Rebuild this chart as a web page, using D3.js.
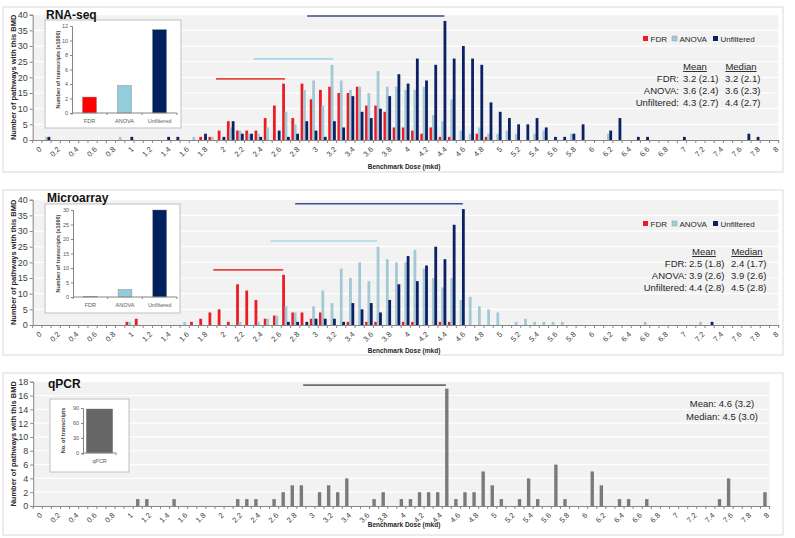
<!DOCTYPE html>
<html>
<head>
<meta charset="utf-8">
<script src="https://cdn.jsdelivr.net/npm/d3@7"></script>
<style>
body { margin: 0; background: #fff; font-family: "Liberation Sans", Arial, sans-serif; }
</style>
</head>
<body>
<svg id="chart" width="795" height="538"></svg>
<script>
// categories: benchmark dose bins, 0.0 .. 8.0 by 0.1
const doses = d3.range(81).map(i => i / 10);
const seriesNames = ['FDR', 'ANOVA', 'Unfiltered'];

// RNA-seq: number of pathways per BMD bin
const rnaFdr = [
  0,0,0,0,0,0,0,0,0,0,
  0,0,0,0,0,0,0,0,1,1,
  3,6,3,3,3,7,11,18,7,18,
  13,16,17,15,15,17,11,11,9,4,
  4,3,2,4,1,1,0,0,2,1,
  0,0,0,0,0,0,0,0,0,0,
  0,0,0,0,0,0,0,0,0,0,
  0,0,0,0,0,0,0,0,0,0,
  0];
const rnaAnova = [
  0,1,0,0,0,0,0,0,0,1,
  0,0,0,0,0,0,0,1,0,1,
  0,4,3,2,2,4,0,9,5,16,
  19,11,24,19,16,17,15,22,17,17,
  16,16,17,8,6,13,3,2,4,2,
  2,3,2,0,2,3,0,0,2,0,
  0,0,2,0,0,0,0,0,0,0,
  0,0,0,0,0,0,0,0,0,0,
  0];
const rnaUnf = [
  0,1,0,0,0,0,0,0,0,0,
  1,0,0,0,1,1,0,0,2,0,
  1,6,2,2,1,0,3,1,2,6,
  3,1,6,4,14,9,7,10,14,21,
  18,26,19,24,38,26,30,26,24,12,
  9,7,5,5,7,4,1,1,2,5,
  0,0,3,7,0,1,1,0,0,0,
  1,0,0,0,0,0,0,2,1,0,
  0];

// Microarray
const microFdr = [
  0,0,0,0,0,0,0,0,0,0,
  1,2,0,0,0,0,0,1,2,4,
  5,1,13,11,8,2,3,16,4,4,
  2,4,0,0,1,0,1,1,0,0,
  1,1,0,0,1,1,0,0,0,0,
  0,0,0,0,0,0,0,0,0,0,
  0,0,0,0,0,0,0,0,0,0,
  0,0,0,0,0,0,0,0,0,0,
  0];
const microAnova = [
  0,0,0,0,0,0,0,0,0,0,
  1,0,0,0,0,0,1,0,0,0,
  0,0,1,0,1,2,3,6,4,0,
  6,11,7,18,15,20,14,25,21,20,
  20,24,18,15,12,15,8,9,6,5,
  4,0,1,2,1,1,1,1,0,0,
  0,0,0,0,0,0,1,0,0,0,
  0,0,1,0,0,0,0,0,0,0,
  0];
const microUnf = [
  0,0,0,0,0,0,0,0,0,0,
  0,0,0,0,0,0,0,0,0,0,
  0,0,0,0,0,0,0,1,1,1,
  2,2,2,1,7,5,7,4,8,13,
  22,14,19,25,21,32,37,0,0,0,
  0,0,0,0,0,0,0,0,0,0,
  0,0,0,0,0,0,0,0,0,0,
  0,0,0,1,0,0,0,0,0,0,
  0];

// qPCR
const qpcrCounts = [
  0,0,0,0,0,0,0,0,0,0,
  0,1,1,0,0,1,0,0,0,0,
  0,0,1,1,1,0,1,2,3,3,
  0,2,3,2,4,0,0,1,2,0,
  1,1,2,2,2,17,1,2,2,5,
  3,1,0,1,4,1,0,6,1,0,
  0,5,3,0,1,1,0,1,0,0,
  0,0,0,0,0,1,4,0,0,0,
  2];

// inset totals (number of transcripts)
const rnaTotals = [2.2, 3.8, 11.5];      // x1000
const microTotals = [0.15, 2.6, 30];     // x1000
const qpcrTotals = [88];

// range bars drawn above the histograms: [from dose, to dose, height]
const rnaRanges = [[1.94, 2.69, 19.5], [2.35, 3.21, 25.9], [2.93, 4.42, 39.6]];
const microRanges = [[1.91, 2.67, 17.6], [2.53, 3.69, 26.8], [2.80, 4.62, 38.7]];
const qpcrRanges = [[2.92, 4.49, 17.5]];

// summary stats: label, mean, median
const rnaStats = [['FDR:', '3.2 (2.1)', '3.2 (2.1)'], ['ANOVA:', '3.6 (2.4)', '3.6 (2.3)'], ['Unfiltered:', '4.3 (2.7)', '4.4 (2.7)']];
const microStats = [['FDR:', '2.5 (1.8)', '2.4 (1.7)'], ['ANOVA:', '3.9 (2.6)', '3.9 (2.6)'], ['Unfiltered:', '4.4 (2.8)', '4.5 (2.8)']];
const qpcrStats = ['Mean: 4.6 (3.2)', 'Median: 4.5 (3.0)'];

const colors = ['#ec1c24', '#a4c8d4', '#0c2064'];
const insetColors = ['#ff0000', '#92cddc', '#002060'];
const rangeColors = ['#e8453f', '#a9d9e8', '#3a4d8c'];

const svg = d3.select('#chart');

const drawMain = (cfg) => {
    const g = svg.append('g');
    g.append('rect')
        .attr('x', 3).attr('y', cfg.top).attr('width', 780).attr('height', cfg.h)
        .attr('fill', '#fff').attr('stroke', '#d9d9d9');

    const x = d3.scaleBand().domain(doses).range([cfg.x0, cfg.x1]);
    const y = d3.scaleLinear().domain([0, cfg.yMax]).range([cfg.yBase, cfg.yTop]);
    const xd = d3.scaleLinear().domain([0, 8])
        .range([x(0) + x.bandwidth() / 2, x(8) + x.bandwidth() / 2]);

    // plot background + white gridlines
    g.append('rect')
        .attr('x', cfg.x0).attr('y', cfg.yTop)
        .attr('width', cfg.x1 - cfg.x0).attr('height', cfg.yBase - cfg.yTop)
        .attr('fill', '#f2f2f2');
    g.selectAll('line.grid')
        .data(y.ticks(cfg.yTicks).filter(v => v > 0))
        .enter().append('line')
        .attr('x1', cfg.x0).attr('x2', cfg.x1)
        .attr('y1', d => y(d)).attr('y2', d => y(d))
        .attr('stroke', '#fff').attr('stroke-width', 1.2);

    // range lines
    g.selectAll('line.range')
        .data(cfg.ranges)
        .enter().append('line')
        .attr('x1', d => xd(d[0])).attr('x2', d => xd(d[1]))
        .attr('y1', d => y(d[2])).attr('y2', d => y(d[2]))
        .attr('stroke', (d, i) => cfg.rangeColors[i]).attr('stroke-width', 1.6);

    // bars
    const off = d3.scalePoint().domain(d3.range(cfg.series.length))
        .range(cfg.series.length > 1 ? [-2.4, 2.4] : [0, 0]);
    cfg.series.forEach((vals, s) => {
        g.append('g').selectAll('rect')
            .data(vals.map((v, i) => ({ d: doses[i], v: v })).filter(d => d.v > 0))
            .enter().append('rect')
            .attr('x', d => x(d.d) + x.bandwidth() / 2 + off(s) - cfg.barW / 2)
            .attr('width', cfg.barW)
            .attr('y', d => y(d.v))
            .attr('height', d => y(0) - y(d.v))
            .attr('fill', cfg.colors[s]);
    });

    // y axis
    const ya = g.append('g')
        .attr('transform', `translate(${cfg.x0},0)`)
        .call(d3.axisLeft(y).ticks(cfg.yTicks).tickSize(3).tickPadding(2));
    ya.select('.domain').attr('stroke', '#868686');
    ya.selectAll('.tick line').attr('stroke', '#868686');
    ya.selectAll('.tick text').attr('fill', '#404040')
        .style('font-size', '9px').style('font-family', '"Liberation Sans", Arial, sans-serif');

    // x axis
    const xa = g.append('g')
        .attr('transform', `translate(0,${cfg.yBase})`)
        .call(d3.axisBottom(x).tickValues(doses.filter((d, i) => i % 2 === 0))
            .tickSize(0).tickFormat(d => String(d)));
    xa.select('.domain').attr('stroke', '#868686');
    xa.selectAll('.tick text')
        .attr('x', 0).attr('y', 0).attr('dy', '0.35em')
        .attr('transform', 'translate(3,8) rotate(-45)')
        .style('text-anchor', 'end')
        .attr('fill', '#404040')
        .style('font-size', '7.5px').style('font-family', '"Liberation Sans", Arial, sans-serif');
    g.selectAll('line.xtick')
        .data(d3.range(doses.length + 1))
        .enter().append('line')
        .attr('x1', i => cfg.x0 + i * x.step()).attr('x2', i => cfg.x0 + i * x.step())
        .attr('y1', cfg.yBase).attr('y2', cfg.yBase + 3)
        .attr('stroke', '#868686');

    // axis titles
    g.append('text')
        .attr('x', 13).attr('y', (cfg.yTop + cfg.yBase) / 2)
        .attr('transform', `rotate(-90,13,${(cfg.yTop + cfg.yBase) / 2})`)
        .attr('text-anchor', 'middle').attr('dy', '0.35em')
        .style('font-size', '7.5px').style('font-weight', 'bold').attr('fill', '#262626')
        .text('Number of pathways with this BMD');
    g.append('text')
        .attr('x', 404).attr('y', cfg.xTitleY)
        .attr('text-anchor', 'middle')
        .style('font-size', '6.5px').style('font-weight', 'bold').attr('fill', '#262626')
        .text('Benchmark Dose (mkd)');
    return g;
};

// panel title is drawn last so the inset box does not cover it
const drawTitle = (text, x, y) => {
    svg.append('text')
        .attr('x', x).attr('y', y)
        .style('font-size', '12px').style('font-weight', 'bold').attr('fill', '#111')
        .text(text);
};

const drawLegendStats = (g, top, stats, pos) => {
    const lg = g.append('g').attr('transform', `translate(0,${top})`);
    const lx = [643, 672, 713];
    seriesNames.forEach((n, i) => {
        lg.append('rect').attr('x', lx[i]).attr('y', 36).attr('width', 5).attr('height', 5)
            .attr('fill', colors[i]).attr('stroke', i === 1 ? '#7fa8b8' : 'none').attr('stroke-width', 0.5);
        lg.append('text').attr('x', lx[i] + 7.5).attr('y', 41.5)
            .style('font-size', '8px').attr('fill', '#262626').text(n);
    });
    lg.append('text').attr('x', pos.meanC).attr('y', 70).attr('text-anchor', 'middle')
        .style('font-size', '9.5px').style('text-decoration', 'underline').attr('fill', '#262626').text('Mean');
    lg.append('text').attr('x', pos.medC).attr('y', 70).attr('text-anchor', 'middle')
        .style('font-size', '9.5px').style('text-decoration', 'underline').attr('fill', '#262626').text('Median');
    stats.forEach((r, i) => {
        const yy = 82 + i * 12;
        lg.append('text').attr('x', pos.labEnd).attr('y', yy).attr('text-anchor', 'end')
            .style('font-size', '9.5px').attr('fill', '#262626').text(r[0]);
        lg.append('text').attr('x', pos.meanX).attr('y', yy)
            .style('font-size', '9.5px').attr('fill', '#262626').text(r[1]);
        lg.append('text').attr('x', pos.medX).attr('y', yy)
            .style('font-size', '9.5px').attr('fill', '#262626').text(r[2]);
    });
};

const drawInset = (cfg) => {
    const g = svg.append('g');
    g.append('rect')
        .attr('x', cfg.bx).attr('y', cfg.by).attr('width', cfg.bw).attr('height', cfg.bh)
        .attr('fill', '#fff').attr('stroke', '#bfbfbf').attr('stroke-width', 1);
    const x = d3.scaleBand().domain(cfg.cats).range([cfg.ax0, cfg.ax1])
        .paddingInner(cfg.pad).paddingOuter(cfg.padOuter);
    const y = d3.scaleLinear().domain([0, cfg.yMax]).range([cfg.y0, cfg.y1]);

    g.selectAll('rect.bar')
        .data(cfg.values)
        .enter().append('rect')
        .attr('x', (d, i) => x(cfg.cats[i]))
        .attr('width', x.bandwidth())
        .attr('y', d => y(d))
        .attr('height', d => y(0) - y(d))
        .attr('fill', (d, i) => cfg.colors[i])
        .attr('stroke', '#7f7f7f').attr('stroke-width', 0.4);

    const ya = g.append('g')
        .attr('transform', `translate(${cfg.ax0},0)`)
        .call(d3.axisLeft(y).tickValues(cfg.ticks).tickSize(2).tickPadding(2));
    ya.select('.domain').attr('stroke', '#868686');
    ya.selectAll('.tick line').attr('stroke', '#868686');
    ya.selectAll('.tick text').attr('fill', '#595959').style('font-size', '5.5px');

    g.append('line')
        .attr('x1', cfg.ax0).attr('x2', cfg.ax1).attr('y1', cfg.y0).attr('y2', cfg.y0)
        .attr('stroke', '#868686');
    g.selectAll('line.ct')
        .data(d3.range(cfg.cats.length + 1))
        .enter().append('line')
        .attr('x1', i => cfg.ax0 + i * (cfg.ax1 - cfg.ax0) / cfg.cats.length)
        .attr('x2', i => cfg.ax0 + i * (cfg.ax1 - cfg.ax0) / cfg.cats.length)
        .attr('y1', cfg.y0).attr('y2', cfg.y0 + 2)
        .attr('stroke', '#868686');
    g.selectAll('text.cat')
        .data(cfg.cats)
        .enter().append('text')
        .attr('x', d => x(d) + x.bandwidth() / 2)
        .attr('y', cfg.y0 + 10)
        .attr('text-anchor', 'middle')
        .style('font-size', '5.5px').attr('fill', '#595959')
        .text(d => d);
    const my = (cfg.y0 + cfg.y1) / 2;
    g.append('text')
        .attr('x', cfg.tx).attr('y', my)
        .attr('transform', `rotate(-90,${cfg.tx},${my})`)
        .attr('text-anchor', 'middle').attr('dy', '0.35em')
        .style('font-size', '5.5px').style('font-weight', 'bold').attr('fill', '#404040')
        .text(cfg.yTitle);
};

// ---- RNA-seq ----
const p1 = drawMain({
    top: 7, h: 165, x0: 32.7, x1: 778.7, yBase: 140, yTop: 14.7, yMax: 40, yTicks: 8,
    series: [rnaFdr, rnaAnova, rnaUnf], colors: colors, barW: 2.8,
    ranges: rnaRanges, rangeColors: rangeColors, xTitleY: 169
});
drawLegendStats(p1, 0, rnaStats, { meanC: 695, medC: 741, labEnd: 679, meanX: 683, medX: 725 });
drawInset({
    bx: 45, by: 20, bw: 136, bh: 108, ax0: 72, ax1: 177, y0: 113, y1: 26, yMax: 12,
    ticks: [0, 2, 4, 6, 8, 10, 12], cats: seriesNames, values: rnaTotals, colors: insetColors,
    pad: 0.6, padOuter: 0.3, tx: 58, yTitle: 'Number of transcripts (x1000)'
});
drawTitle('RNA-seq', 46, 18.5);

// ---- Microarray ----
const p2 = drawMain({
    top: 190, h: 165, x0: 32.7, x1: 778.7, yBase: 325, yTop: 199.7, yMax: 40, yTicks: 8,
    series: [microFdr, microAnova, microUnf], colors: colors, barW: 2.8,
    ranges: microRanges, rangeColors: rangeColors, xTitleY: 353
});
drawLegendStats(p2, 185, microStats, { meanC: 704, medC: 747, labEnd: 687, meanX: 689, medX: 731 });
drawInset({
    bx: 45, by: 204, bw: 135, bh: 109, ax0: 73, ax1: 177, y0: 297, y1: 210, yMax: 30,
    ticks: [0, 5, 10, 15, 20, 25, 30], cats: seriesNames, values: microTotals, colors: insetColors,
    pad: 0.6, padOuter: 0.3, tx: 58, yTitle: 'Number of transcripts (x1000)'
});
drawTitle('Microarray', 47, 201.5);

// ---- qPCR ----
const p3 = drawMain({
    top: 373, h: 162, x0: 33.2, x1: 769.5, yBase: 506, yTop: 381.7, yMax: 18, yTicks: 9,
    series: [qpcrCounts], colors: ['#7a7a7a'], barW: 3.4,
    ranges: qpcrRanges, rangeColors: ['#6e6e6e'], xTitleY: 527
});
qpcrStats.forEach((t, i) => {
    p3.append('text').attr('x', 722).attr('y', 407 + i * 13)
        .attr('text-anchor', 'middle').style('font-size', '9.5px').attr('fill', '#262626').text(t);
});
drawInset({
    bx: 50, by: 399, bw: 79, bh: 73, ax0: 83, ax1: 116, y0: 453, y1: 408, yMax: 90,
    ticks: [0, 30, 60, 90], cats: ['qPCR'], values: qpcrTotals, colors: ['#666666'],
    pad: 0.2, padOuter: 0.05, tx: 63, yTitle: 'No. of transcripts'
});
drawTitle('qPCR', 48, 387.5);
</script>
</body>
</html>
